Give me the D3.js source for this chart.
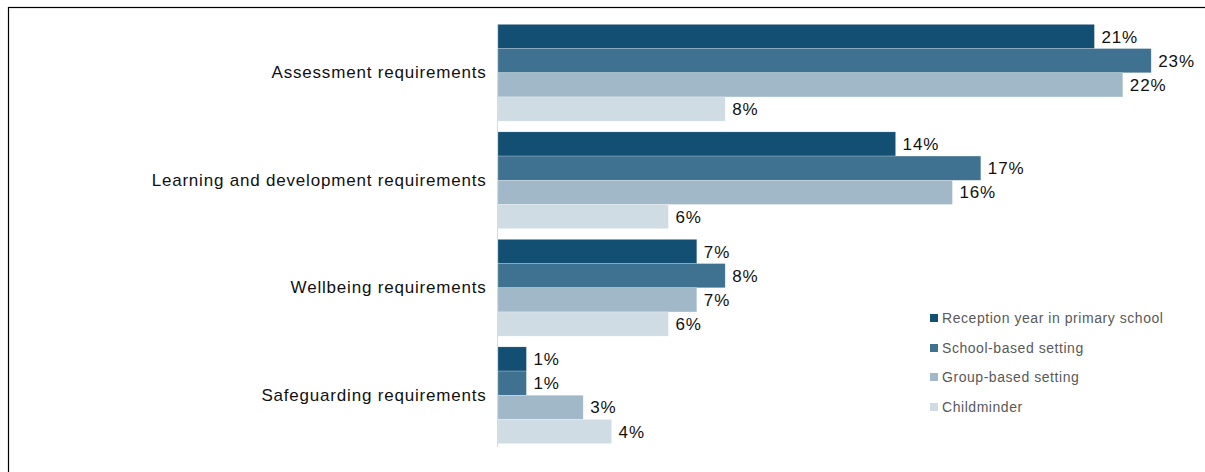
<!DOCTYPE html>
<html><head><meta charset="utf-8">
<script src="https://cdn.jsdelivr.net/npm/d3@7"></script>
<style>body{margin:0;background:#fff}svg{display:block;font-family:"Liberation Sans",Arial,sans-serif}</style>
</head><body><svg id="c" width="1205" height="472"></svg>
<script>
const categories = ["Assessment requirements","Learning and development requirements","Wellbeing requirements","Safeguarding requirements"];
const seriesNames = ["Reception year in primary school","School-based setting","Group-based setting","Childminder"];
const reception = [21,14,7,1];
const schoolBased = [23,17,8,1];
const groupBased = [22,16,7,3];
const childminder = [8,6,6,4];
const colors = ["#134f73","#3f7190","#a1b8c8","#d0dce4"];
const series = [reception, schoolBased, groupBased, childminder];

const svg = d3.select("#c");
// frame (top and left visible)
svg.append("rect").attr("x",8.5).attr("y",7.5).attr("width",1210).attr("height",480)
  .attr("fill","none").attr("stroke","#000").attr("stroke-width",1.2);

const x0 = 498;
const x = d3.scaleLinear().domain([0,1]).range([x0, x0+28.4]);
const y = d3.scaleBand().domain(categories).range([19, 449]).paddingInner(0.1).paddingOuter(0.05);
const yi = d3.scaleBand().domain(d3.range(4)).range([0, y.bandwidth()]);

const g = svg.append("g");
categories.forEach((c, ci) => {
  series.forEach((s, si) => {
    const yy = y(c) + yi(si);
    g.append("rect").attr("x", x(0)).attr("y", yy).attr("width", x(s[ci]) - x(0)).attr("height", yi.bandwidth())
      .attr("fill", colors[si]).attr("stroke","rgba(255,255,255,0.35)").attr("stroke-width",0.6);
    g.append("text").attr("x", x(s[ci]) + 7).attr("y", yy + yi.bandwidth()/2).attr("dy","0.36em")
      .attr("font-size",17).attr("letter-spacing","0.9px").attr("fill","#111").text(s[ci] + "%");
  });
});
// category axis
const ax = svg.append("g").attr("transform",`translate(${x0-0.5},0)`)
  .call(d3.axisLeft(y).tickSize(0).tickPadding(11));
ax.select(".domain").attr("stroke","#d9d9d9").attr("d",`M0,${y.range()[0]+5}V${y.range()[1]-2}`);
ax.selectAll("text").attr("font-size",17).attr("letter-spacing","0.8px").attr("fill","#111").attr("font-family","Liberation Sans, Arial, sans-serif");

// legend
const lg = svg.append("g");
const ly = [318, 348, 377, 407];
seriesNames.forEach((n, i) => {
  lg.append("rect").attr("x",930).attr("y",ly[i]-4).attr("width",8).attr("height",8).attr("fill",colors[i]);
  lg.append("text").attr("x",942).attr("y",ly[i]).attr("dy","0.36em").attr("font-size",14).attr("letter-spacing","0.55px").attr("fill","#595959").text(n);
});
</script></body></html>
